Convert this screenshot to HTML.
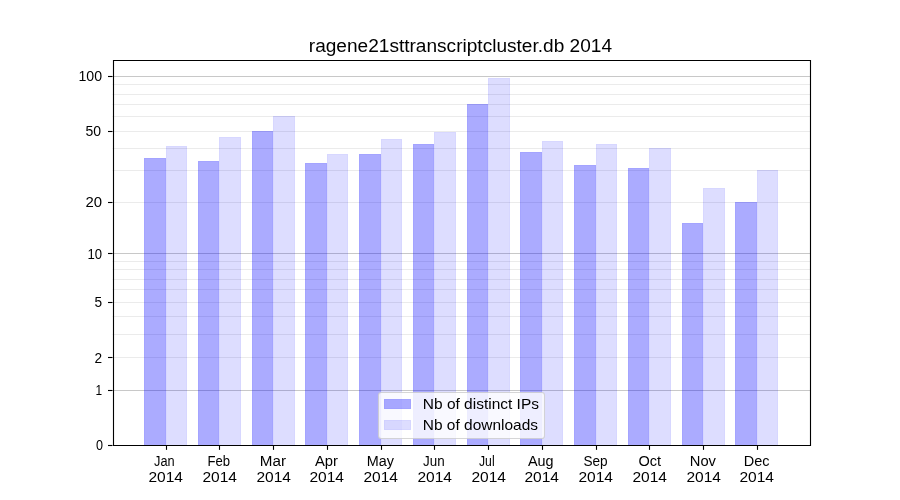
<!DOCTYPE html><html><head><meta charset="utf-8"><style>html,body{margin:0;padding:0;background:#fff;width:900px;height:500px;overflow:hidden}svg{display:block;will-change:transform}text{font-family:"Liberation Sans",sans-serif;fill:#000}</style></head><body>
<svg width="900" height="500" viewBox="0 0 900 500">
<rect x="112.50" y="357" width="697.50" height="1" fill="#ebebeb"/>
<rect x="112.50" y="334" width="697.50" height="1" fill="#ebebeb"/>
<rect x="112.50" y="316" width="697.50" height="1" fill="#ebebeb"/>
<rect x="112.50" y="302" width="697.50" height="1" fill="#ebebeb"/>
<rect x="112.50" y="289" width="697.50" height="1" fill="#ebebeb"/>
<rect x="112.50" y="279" width="697.50" height="1" fill="#ebebeb"/>
<rect x="112.50" y="269" width="697.50" height="1" fill="#ebebeb"/>
<rect x="112.50" y="261" width="697.50" height="1" fill="#ebebeb"/>
<rect x="112.50" y="202" width="697.50" height="1" fill="#ebebeb"/>
<rect x="112.50" y="170" width="697.50" height="1" fill="#ebebeb"/>
<rect x="112.50" y="148" width="697.50" height="1" fill="#ebebeb"/>
<rect x="112.50" y="131" width="697.50" height="1" fill="#ebebeb"/>
<rect x="112.50" y="116" width="697.50" height="1" fill="#ebebeb"/>
<rect x="112.50" y="104" width="697.50" height="1" fill="#ebebeb"/>
<rect x="112.50" y="94" width="697.50" height="1" fill="#ebebeb"/>
<rect x="112.50" y="84" width="697.50" height="1" fill="#ebebeb"/>
<rect x="112.50" y="390" width="697.50" height="1" fill="#c8c8c8"/>
<rect x="112.50" y="253" width="697.50" height="1" fill="#c8c8c8"/>
<rect x="112.50" y="76" width="697.50" height="1" fill="#c8c8c8"/>
<rect x="144" y="158" width="22" height="287.0" fill="rgba(0,0,255,0.33)"/>
<rect x="144.5" y="158.5" width="21" height="287.0" fill="none" stroke="rgba(0,0,255,0.045)" stroke-width="1"/>
<rect x="166" y="146" width="21" height="299.0" fill="rgba(0,0,255,0.135)"/>
<rect x="166.5" y="146.5" width="20" height="299.0" fill="none" stroke="rgba(0,0,255,0.03)" stroke-width="1"/>
<rect x="198" y="161" width="21" height="284.0" fill="rgba(0,0,255,0.33)"/>
<rect x="198.5" y="161.5" width="20" height="284.0" fill="none" stroke="rgba(0,0,255,0.045)" stroke-width="1"/>
<rect x="219" y="137" width="22" height="308.0" fill="rgba(0,0,255,0.135)"/>
<rect x="219.5" y="137.5" width="21" height="308.0" fill="none" stroke="rgba(0,0,255,0.03)" stroke-width="1"/>
<rect x="252" y="131" width="21" height="314.0" fill="rgba(0,0,255,0.33)"/>
<rect x="252.5" y="131.5" width="20" height="314.0" fill="none" stroke="rgba(0,0,255,0.045)" stroke-width="1"/>
<rect x="273" y="116" width="22" height="329.0" fill="rgba(0,0,255,0.135)"/>
<rect x="273.5" y="116.5" width="21" height="329.0" fill="none" stroke="rgba(0,0,255,0.03)" stroke-width="1"/>
<rect x="305" y="163" width="22" height="282.0" fill="rgba(0,0,255,0.33)"/>
<rect x="305.5" y="163.5" width="21" height="282.0" fill="none" stroke="rgba(0,0,255,0.045)" stroke-width="1"/>
<rect x="327" y="154" width="21" height="291.0" fill="rgba(0,0,255,0.135)"/>
<rect x="327.5" y="154.5" width="20" height="291.0" fill="none" stroke="rgba(0,0,255,0.03)" stroke-width="1"/>
<rect x="359" y="154" width="22" height="291.0" fill="rgba(0,0,255,0.33)"/>
<rect x="359.5" y="154.5" width="21" height="291.0" fill="none" stroke="rgba(0,0,255,0.045)" stroke-width="1"/>
<rect x="381" y="139" width="21" height="306.0" fill="rgba(0,0,255,0.135)"/>
<rect x="381.5" y="139.5" width="20" height="306.0" fill="none" stroke="rgba(0,0,255,0.03)" stroke-width="1"/>
<rect x="413" y="144" width="21" height="301.0" fill="rgba(0,0,255,0.33)"/>
<rect x="413.5" y="144.5" width="20" height="301.0" fill="none" stroke="rgba(0,0,255,0.045)" stroke-width="1"/>
<rect x="434" y="132" width="22" height="313.0" fill="rgba(0,0,255,0.135)"/>
<rect x="434.5" y="132.5" width="21" height="313.0" fill="none" stroke="rgba(0,0,255,0.03)" stroke-width="1"/>
<rect x="467" y="104" width="21" height="341.0" fill="rgba(0,0,255,0.33)"/>
<rect x="467.5" y="104.5" width="20" height="341.0" fill="none" stroke="rgba(0,0,255,0.045)" stroke-width="1"/>
<rect x="488" y="78" width="22" height="367.0" fill="rgba(0,0,255,0.135)"/>
<rect x="488.5" y="78.5" width="21" height="367.0" fill="none" stroke="rgba(0,0,255,0.03)" stroke-width="1"/>
<rect x="520" y="152" width="22" height="293.0" fill="rgba(0,0,255,0.33)"/>
<rect x="520.5" y="152.5" width="21" height="293.0" fill="none" stroke="rgba(0,0,255,0.045)" stroke-width="1"/>
<rect x="542" y="141" width="21" height="304.0" fill="rgba(0,0,255,0.135)"/>
<rect x="542.5" y="141.5" width="20" height="304.0" fill="none" stroke="rgba(0,0,255,0.03)" stroke-width="1"/>
<rect x="574" y="165" width="22" height="280.0" fill="rgba(0,0,255,0.33)"/>
<rect x="574.5" y="165.5" width="21" height="280.0" fill="none" stroke="rgba(0,0,255,0.045)" stroke-width="1"/>
<rect x="596" y="144" width="21" height="301.0" fill="rgba(0,0,255,0.135)"/>
<rect x="596.5" y="144.5" width="20" height="301.0" fill="none" stroke="rgba(0,0,255,0.03)" stroke-width="1"/>
<rect x="628" y="168" width="21" height="277.0" fill="rgba(0,0,255,0.33)"/>
<rect x="628.5" y="168.5" width="20" height="277.0" fill="none" stroke="rgba(0,0,255,0.045)" stroke-width="1"/>
<rect x="649" y="148" width="22" height="297.0" fill="rgba(0,0,255,0.135)"/>
<rect x="649.5" y="148.5" width="21" height="297.0" fill="none" stroke="rgba(0,0,255,0.03)" stroke-width="1"/>
<rect x="682" y="223" width="21" height="222.0" fill="rgba(0,0,255,0.33)"/>
<rect x="682.5" y="223.5" width="20" height="222.0" fill="none" stroke="rgba(0,0,255,0.045)" stroke-width="1"/>
<rect x="703" y="188" width="22" height="257.0" fill="rgba(0,0,255,0.135)"/>
<rect x="703.5" y="188.5" width="21" height="257.0" fill="none" stroke="rgba(0,0,255,0.03)" stroke-width="1"/>
<rect x="735" y="202" width="22" height="243.0" fill="rgba(0,0,255,0.33)"/>
<rect x="735.5" y="202.5" width="21" height="243.0" fill="none" stroke="rgba(0,0,255,0.045)" stroke-width="1"/>
<rect x="757" y="170" width="21" height="275.0" fill="rgba(0,0,255,0.135)"/>
<rect x="757.5" y="170.5" width="20" height="275.0" fill="none" stroke="rgba(0,0,255,0.03)" stroke-width="1"/>
<path d="M113.5 60.5H810.5V445.5H113.5Z" fill="none" stroke="#000" stroke-width="1.111" stroke-linecap="square"/>
<line x1="108" y1="445.5" x2="112.5" y2="445.5" stroke="#000" stroke-width="1.111"/>
<text x="96.00" y="450.00" font-size="13.889" textLength="7.00" lengthAdjust="spacingAndGlyphs">0</text>
<line x1="108" y1="390.5" x2="112.5" y2="390.5" stroke="#000" stroke-width="1.111"/>
<text x="95.40" y="394.57" font-size="13.889" textLength="6.60" lengthAdjust="spacingAndGlyphs">1</text>
<line x1="108" y1="357.5" x2="112.5" y2="357.5" stroke="#000" stroke-width="1.111"/>
<text x="94.40" y="362.74" font-size="13.889" textLength="7.60" lengthAdjust="spacingAndGlyphs">2</text>
<line x1="108" y1="302.5" x2="112.5" y2="302.5" stroke="#000" stroke-width="1.111"/>
<text x="94.40" y="306.71" font-size="13.889" textLength="7.60" lengthAdjust="spacingAndGlyphs">5</text>
<line x1="108" y1="253.5" x2="112.5" y2="253.5" stroke="#000" stroke-width="1.111"/>
<text x="87.40" y="258.84" font-size="13.889" textLength="14.60" lengthAdjust="spacingAndGlyphs">10</text>
<line x1="108" y1="202.5" x2="112.5" y2="202.5" stroke="#000" stroke-width="1.111"/>
<text x="85.40" y="206.53" font-size="13.889" textLength="16.60" lengthAdjust="spacingAndGlyphs">20</text>
<line x1="108" y1="131.5" x2="112.5" y2="131.5" stroke="#000" stroke-width="1.111"/>
<text x="85.40" y="135.57" font-size="13.889" textLength="15.60" lengthAdjust="spacingAndGlyphs">50</text>
<line x1="108" y1="76.5" x2="112.5" y2="76.5" stroke="#000" stroke-width="1.111"/>
<text x="78.40" y="80.92" font-size="13.889" textLength="23.61" lengthAdjust="spacingAndGlyphs">100</text>
<line x1="166.5" y1="445.0" x2="166.5" y2="449.86" stroke="#000" stroke-width="1.111"/>
<text x="154.00" y="466.00" font-size="13.889" textLength="20.60" lengthAdjust="spacingAndGlyphs">Jan</text>
<text x="148.40" y="482.00" font-size="13.889" textLength="34.59" lengthAdjust="spacingAndGlyphs">2014</text>
<line x1="219.5" y1="445.0" x2="219.5" y2="449.86" stroke="#000" stroke-width="1.111"/>
<text x="207.40" y="466.00" font-size="13.889" textLength="22.60" lengthAdjust="spacingAndGlyphs">Feb</text>
<text x="202.40" y="482.00" font-size="13.889" textLength="34.59" lengthAdjust="spacingAndGlyphs">2014</text>
<line x1="273.5" y1="445.0" x2="273.5" y2="449.86" stroke="#000" stroke-width="1.111"/>
<text x="259.80" y="466.00" font-size="13.889" textLength="26.20" lengthAdjust="spacingAndGlyphs">Mar</text>
<text x="256.40" y="482.00" font-size="13.889" textLength="34.59" lengthAdjust="spacingAndGlyphs">2014</text>
<line x1="327.5" y1="445.0" x2="327.5" y2="449.86" stroke="#000" stroke-width="1.111"/>
<text x="315.00" y="466.00" font-size="13.889" textLength="23.00" lengthAdjust="spacingAndGlyphs">Apr</text>
<text x="309.40" y="482.00" font-size="13.889" textLength="34.59" lengthAdjust="spacingAndGlyphs">2014</text>
<line x1="381.5" y1="445.0" x2="381.5" y2="449.86" stroke="#000" stroke-width="1.111"/>
<text x="366.80" y="466.00" font-size="13.889" textLength="27.20" lengthAdjust="spacingAndGlyphs">May</text>
<text x="363.40" y="482.00" font-size="13.889" textLength="34.59" lengthAdjust="spacingAndGlyphs">2014</text>
<line x1="434.5" y1="445.0" x2="434.5" y2="449.86" stroke="#000" stroke-width="1.111"/>
<text x="423.00" y="466.00" font-size="13.889" textLength="21.60" lengthAdjust="spacingAndGlyphs">Jun</text>
<text x="417.40" y="482.00" font-size="13.889" textLength="34.59" lengthAdjust="spacingAndGlyphs">2014</text>
<line x1="488.5" y1="445.0" x2="488.5" y2="449.86" stroke="#000" stroke-width="1.111"/>
<text x="479.00" y="466.00" font-size="13.889" textLength="15.60" lengthAdjust="spacingAndGlyphs">Jul</text>
<text x="471.40" y="482.00" font-size="13.889" textLength="34.59" lengthAdjust="spacingAndGlyphs">2014</text>
<line x1="542.5" y1="445.0" x2="542.5" y2="449.86" stroke="#000" stroke-width="1.111"/>
<text x="528.00" y="466.00" font-size="13.889" textLength="25.60" lengthAdjust="spacingAndGlyphs">Aug</text>
<text x="524.40" y="482.00" font-size="13.889" textLength="34.59" lengthAdjust="spacingAndGlyphs">2014</text>
<line x1="596.5" y1="445.0" x2="596.5" y2="449.86" stroke="#000" stroke-width="1.111"/>
<text x="583.40" y="466.00" font-size="13.889" textLength="24.20" lengthAdjust="spacingAndGlyphs">Sep</text>
<text x="578.40" y="482.00" font-size="13.889" textLength="34.59" lengthAdjust="spacingAndGlyphs">2014</text>
<line x1="649.5" y1="445.0" x2="649.5" y2="449.86" stroke="#000" stroke-width="1.111"/>
<text x="638.40" y="466.00" font-size="13.889" textLength="22.60" lengthAdjust="spacingAndGlyphs">Oct</text>
<text x="632.40" y="482.00" font-size="13.889" textLength="34.59" lengthAdjust="spacingAndGlyphs">2014</text>
<line x1="703.5" y1="445.0" x2="703.5" y2="449.86" stroke="#000" stroke-width="1.111"/>
<text x="689.80" y="466.00" font-size="13.889" textLength="26.20" lengthAdjust="spacingAndGlyphs">Nov</text>
<text x="686.40" y="482.00" font-size="13.889" textLength="34.59" lengthAdjust="spacingAndGlyphs">2014</text>
<line x1="757.5" y1="445.0" x2="757.5" y2="449.86" stroke="#000" stroke-width="1.111"/>
<text x="743.80" y="466.00" font-size="13.889" textLength="25.80" lengthAdjust="spacingAndGlyphs">Dec</text>
<text x="739.40" y="482.00" font-size="13.889" textLength="34.59" lengthAdjust="spacingAndGlyphs">2014</text>
<text x="308.80" y="52.00" font-size="17.5" textLength="303.20" lengthAdjust="spacingAndGlyphs">ragene21sttranscriptcluster.db 2014</text>
<rect x="378.5" y="392.5" width="166.0" height="46.0" rx="2.8" ry="2.8" fill="rgba(255,255,255,0.8)" stroke="rgba(204,204,204,0.8)" stroke-width="1.111"/>
<rect x="384" y="399" width="27" height="10" fill="rgba(0,0,255,0.33)"/>
<rect x="384.5" y="399.5" width="26" height="9" fill="none" stroke="rgba(0,0,255,0.045)"/>
<rect x="384" y="420" width="27" height="10" fill="rgba(0,0,255,0.135)"/>
<rect x="384.5" y="420.5" width="26" height="9" fill="none" stroke="rgba(0,0,255,0.03)"/>
<text x="422.80" y="409.00" font-size="14.3" textLength="116.20" lengthAdjust="spacingAndGlyphs">Nb of distinct IPs</text>
<text x="422.80" y="429.50" font-size="14.3" textLength="115.20" lengthAdjust="spacingAndGlyphs">Nb of downloads</text>
</svg></body></html>
